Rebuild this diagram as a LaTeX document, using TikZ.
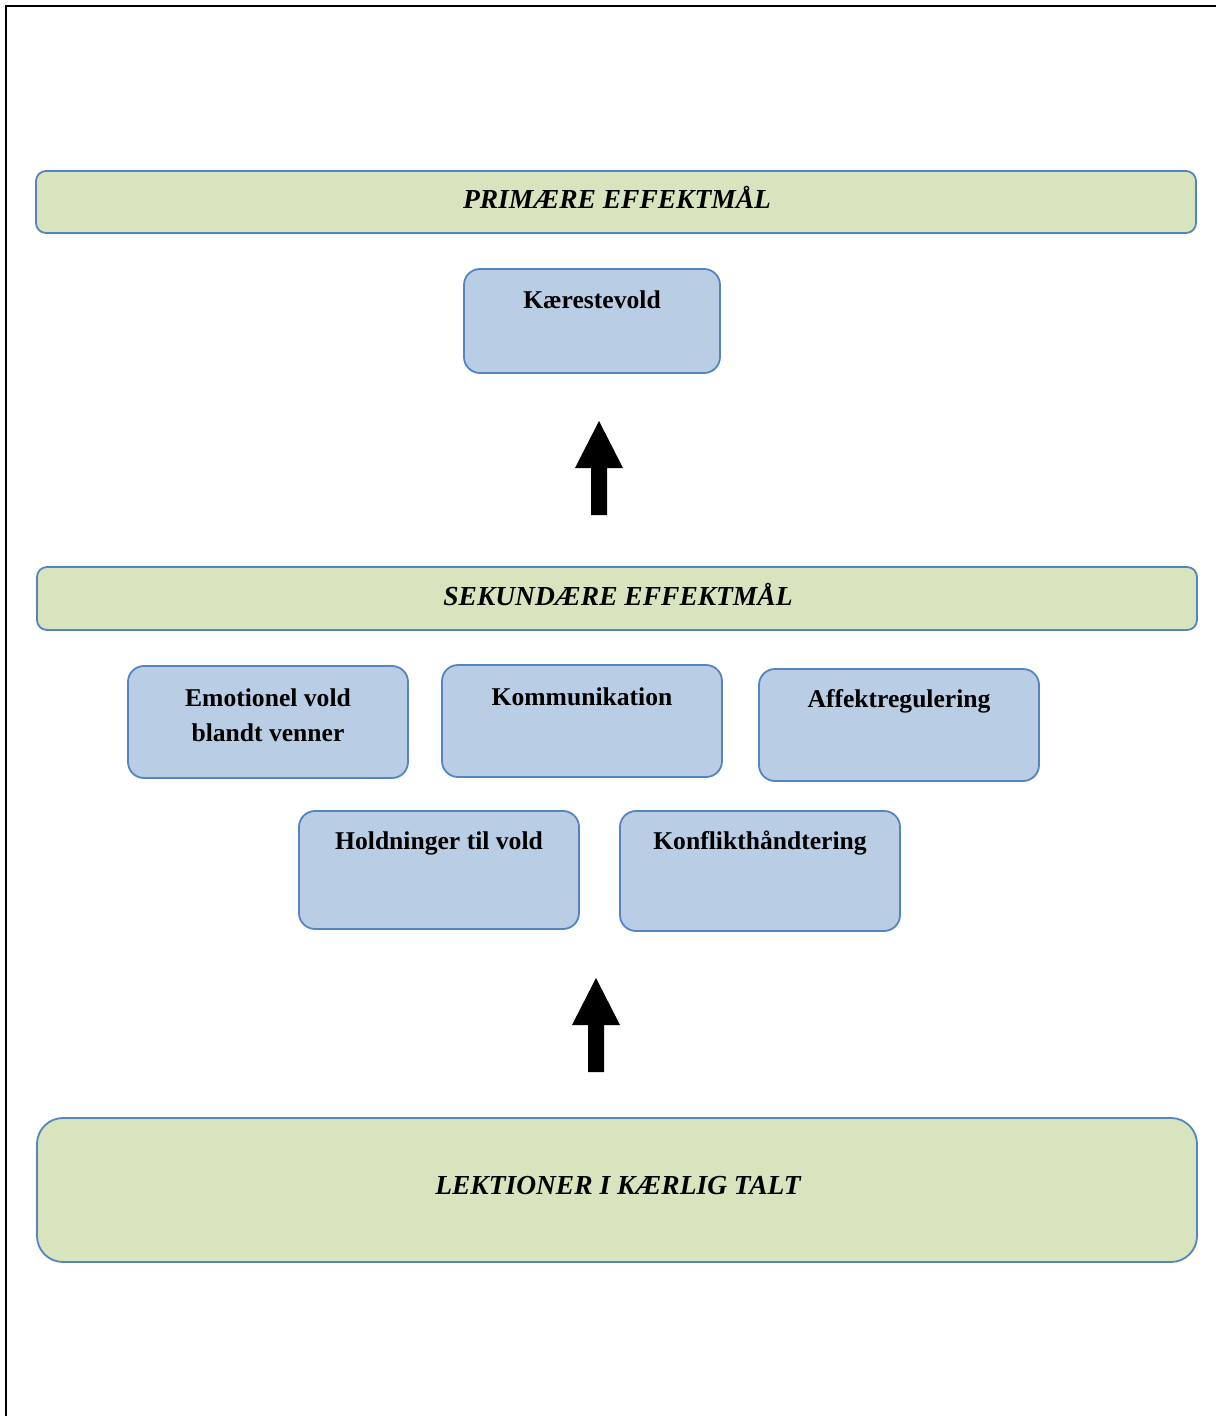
\documentclass[tikz,border=0pt]{standalone}
\usepackage{fontspec}
\setmainfont{Liberation Serif}
\begin{document}
\begin{tikzpicture}[x=1pt,y=-1pt,
  bar/.style={draw=bordblue,fill=barfill,line width=1.8pt,rounded corners=10pt},
  goal/.style={draw=bordblue,fill=boxfill,line width=1.8pt,rounded corners=16pt},
  headtxt/.style={font=\fontsize{27.5}{33}\selectfont\bfseries\itshape},
  boxtxt/.style={font=\fontsize{25.6}{35}\selectfont\bfseries,align=center},
  bigarrow/.style={fill=black}
]
\definecolor{bordblue}{HTML}{5585C0}
\definecolor{barfill}{HTML}{D8E4BE}
\definecolor{boxfill}{HTML}{B9CDE5}
\useasboundingbox (0,0) rectangle (1216,1416);
\fill[white] (0,0) rectangle (1216,1416);
% frame
\draw[line width=1.6pt] (6,1416) -- (6,6) -- (1216,6);
% bars
\draw[bar] (36,171) rectangle (1196,233);
\node[headtxt] (prim) at (617,197) {PRIMÆRE EFFEKTMÅL};
\draw[bar] (37,567) rectangle (1197,630);
\node[headtxt] (sek) at (618,594) {SEKUNDÆRE EFFEKTMÅL};
\draw[bar,rounded corners=26pt] (37,1118) rectangle (1197,1262);
\node[headtxt] (lek) at (618,1186) {LEKTIONER I KÆRLIG TALT};
% goal boxes
\draw[goal] (464,269) rectangle (720,373);
\node[boxtxt] (kaer) at (592,300) {Kærestevold};
\draw[goal] (128,666) rectangle (408,778);
\node[boxtxt] (emo) at (268,715) {Emotionel vold\\blandt venner};
\draw[goal] (442,665) rectangle (722,777);
\node[boxtxt] (komm) at (582,697) {Kommunikation};
\draw[goal] (759,669) rectangle (1039,781);
\node[boxtxt] (aff) at (899,701) {Affektregulering};
\draw[goal] (299,811) rectangle (579,929);
\node[boxtxt] (hold) at (439,843) {Holdninger til vold};
\draw[goal] (620,811) rectangle (900,931);
\node[boxtxt] (konf) at (760,843) {Konflikthåndtering};
% arrows
\fill[bigarrow] (591,515) -- (591,468) -- (575,468) -- (599,421) -- (623,468) -- (607,468) -- (607,515) -- cycle;
\fill[bigarrow] (588,1072) -- (588,1025) -- (572,1025) -- (596,978) -- (620,1025) -- (604,1025) -- (604,1072) -- cycle;
\end{tikzpicture}
\end{document}
